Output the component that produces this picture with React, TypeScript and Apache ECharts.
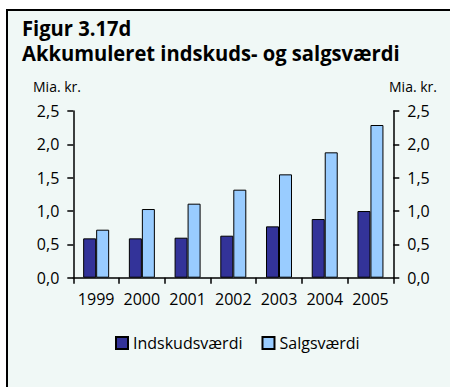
import React, { useEffect, useRef } from "react";
import * as echarts from "echarts";

const years = ["1999", "2000", "2001", "2002", "2003", "2004", "2005"];
const indskudsvaerdi = [0.59, 0.59, 0.6, 0.63, 0.77, 0.88, 1.0];
const salgsvaerdi = [0.72, 1.03, 1.11, 1.32, 1.55, 1.88, 2.29];
const seriesNames = ["Indskudsværdi", "Salgsværdi"];
const titleLines = ["Figur 3.17d", "Akkumuleret indskuds- og salgsværdi"];
const unitLabel = "Mia. kr.";

const FONT = "'Open Sans', sans-serif";
const fmt = (v: number) => v.toFixed(1).replace(".", ",");

export default function App() {
  const ref = useRef<HTMLDivElement>(null);

  useEffect(() => {
    if (!ref.current) return;
    const chart = echarts.init(ref.current, null, { renderer: "svg" });

    const yAxisBase = {
      type: "value" as const,
      min: 0,
      max: 2.5,
      interval: 0.5,
      splitLine: { show: false },
      axisLine: { show: true, lineStyle: { color: "#000", width: 1.5 } },
      axisTick: { show: true, inside: false, length: 6, lineStyle: { color: "#000", width: 1.5 } },
      axisLabel: {
        color: "#000",
        fontFamily: FONT,
        fontSize: 16,
        margin: 14,
        formatter: fmt,
      },
    };

    chart.setOption({
      animation: false,
      backgroundColor: "#ffffff",
      graphic: [
        {
          type: "rect",
          shape: { x: 8, y: 11, width: 450, height: 380 },
          style: { fill: "#f0f8f6" },
          silent: true,
          z: -10,
        },
        {
          type: "line",
          shape: { x1: 6, y1: 10, x2: 450, y2: 10 },
          style: { stroke: "#000", lineWidth: 2 },
          z: -5,
        },
        {
          type: "line",
          shape: { x1: 7, y1: 10, x2: 7, y2: 387 },
          style: { stroke: "#000", lineWidth: 2 },
          z: -5,
        },
        {
          type: "text",
          x: 22,
          y: 28,
          scaleX: 0.96,
          style: {
            text: titleLines[0],
            font: `bold 21px ${FONT}`,
            fill: "#000",
            verticalAlign: "middle",
          },
        },
        {
          type: "text",
          x: 22,
          y: 53,
          scaleX: 0.96,
          style: {
            text: titleLines[1],
            font: `bold 21px ${FONT}`,
            fill: "#000",
            verticalAlign: "middle",
          },
        },
        {
          type: "text",
          x: 33,
          y: 86,
          style: {
            text: unitLabel,
            font: `14px ${FONT}`,
            fill: "#000",
            verticalAlign: "middle",
          },
        },
        {
          type: "text",
          x: 437,
          y: 86,
          style: {
            text: unitLabel,
            font: `14px ${FONT}`,
            fill: "#000",
            align: "right",
            verticalAlign: "middle",
          },
        },
      ],
      grid: { left: 73.3, right: 56.7, top: 111, bottom: 109.3, containLabel: false },
      legend: {
        data: seriesNames,
        left: 110,
        top: 330,
        itemWidth: 12,
        itemHeight: 12,
        itemGap: 19,
        icon: "rect",
        textStyle: { color: "#000", fontFamily: FONT, fontSize: 16, padding: [0, 0, 0, 0] },
      },
      xAxis: {
        type: "category",
        data: years,
        axisLine: { show: true, lineStyle: { color: "#000", width: 1.5 } },
        axisTick: { show: true, length: 6, alignWithLabel: false, lineStyle: { color: "#000", width: 1.5 } },
        axisLabel: { color: "#000", fontFamily: FONT, fontSize: 16, margin: 13, interval: 0 },
      },
      yAxis: [
        { ...yAxisBase, position: "left" },
        { ...yAxisBase, position: "right" },
      ],
      series: [
        {
          name: seriesNames[0],
          type: "bar",
          data: indskudsvaerdi,
          barWidth: 13,
          barGap: "0%",
          itemStyle: { color: "#333399", borderColor: "#000", borderWidth: 1 },
        },
        {
          name: seriesNames[1],
          type: "bar",
          data: salgsvaerdi,
          barWidth: 13,
          barGap: "0%",
          itemStyle: { color: "#99ccff", borderColor: "#000", borderWidth: 1 },
        },
      ],
    });

    return () => chart.dispose();
  }, []);

  return (
    <div style={{ position: "fixed", left: 0, top: 0, width: 450, height: 387 }}>
      <div ref={ref} style={{ width: 450, height: 387 }} />
    </div>
  );
}
